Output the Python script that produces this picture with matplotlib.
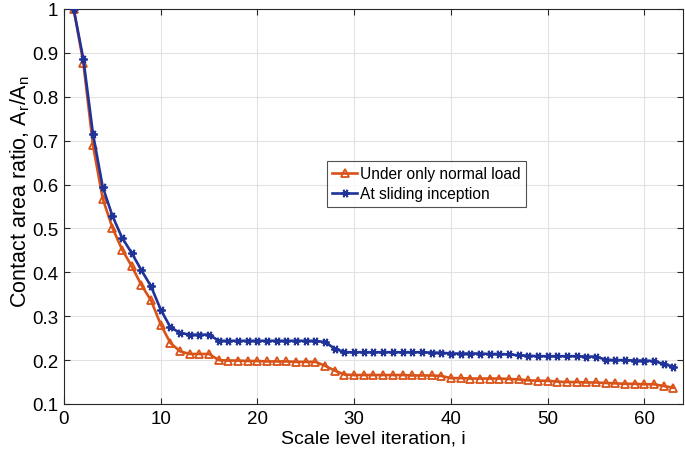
import matplotlib
matplotlib.use("Agg")
import matplotlib.pyplot as plt
import numpy as np

plt.rcParams['font.family'] = ['Liberation Sans', 'DejaVu Sans']

iterations = list(range(1, 64))

normal_load = [
    1.000, 0.877, 0.689, 0.568, 0.502, 0.452, 0.414, 0.371, 0.336, 0.281,
    0.239, 0.220, 0.214, 0.214, 0.214, 0.200, 0.199, 0.199, 0.198, 0.198,
    0.197, 0.197, 0.197, 0.196, 0.196, 0.196, 0.187, 0.176, 0.167, 0.166,
    0.166, 0.166, 0.166, 0.166, 0.166, 0.165, 0.165, 0.165, 0.164, 0.159,
    0.159, 0.158, 0.158, 0.158, 0.158, 0.157, 0.156, 0.154, 0.153, 0.153,
    0.151, 0.150, 0.150, 0.149, 0.149, 0.148, 0.147, 0.146, 0.146, 0.145,
    0.145, 0.141, 0.137,
]

sliding = [
    1.000, 0.886, 0.715, 0.595, 0.529, 0.479, 0.444, 0.405, 0.368, 0.315,
    0.275, 0.262, 0.258, 0.258, 0.258, 0.244, 0.244, 0.244, 0.244, 0.244,
    0.244, 0.244, 0.244, 0.244, 0.244, 0.244, 0.241, 0.226, 0.218, 0.218,
    0.218, 0.218, 0.218, 0.218, 0.218, 0.218, 0.218, 0.217, 0.217, 0.215,
    0.215, 0.215, 0.215, 0.214, 0.214, 0.213, 0.211, 0.210, 0.209, 0.209,
    0.209, 0.209, 0.209, 0.208, 0.208, 0.201, 0.200, 0.200, 0.199, 0.199,
    0.198, 0.191, 0.185,
]

series_labels = ["Under only normal load", "At sliding inception"]
x_ticks = [0, 10, 20, 30, 40, 50, 60]
y_ticks = [0.1, 0.2, 0.3, 0.4, 0.5, 0.6, 0.7, 0.8, 0.9, 1.0]
y_tick_labels = ["0.1", "0.2", "0.3", "0.4", "0.5", "0.6", "0.7", "0.8", "0.9", "1"]

orange = "#D95319"
blue = "#1F3399"

plt.rcParams['mathtext.fontset'] = 'custom'
plt.rcParams['mathtext.rm'] = 'Liberation Sans'

fig = plt.figure(figsize=(6.85, 4.6), dpi=100)
ax = fig.add_axes([64/685, 1 - 405/460, (683 - 64)/685, (405 - 10)/460])

ax.plot(iterations, normal_load, '-', color=orange, lw=1.9, marker='^',
        markersize=5.5, markerfacecolor='none', markeredgecolor=orange,
        markeredgewidth=1.3, label=series_labels[0], zorder=3)
ax.plot(iterations, sliding, '-', color=blue, lw=1.9, marker=(6, 2, 90),
        markersize=6, markeredgecolor=blue, markeredgewidth=1.3,
        label=series_labels[1], zorder=4)

ax.set_xlim(0, 64)
ax.set_ylim(0.1, 1.0)
ax.set_xticks(x_ticks)
ax.set_yticks(y_ticks)
ax.set_yticklabels(y_tick_labels)
ax.grid(True, color='#E2E2E2', lw=0.8)
ax.set_axisbelow(True)
ax.tick_params(direction='in', top=True, right=True, labelsize=13.5,
               length=4, width=0.8, color='#262626', pad=4)
for s in ax.spines.values():
    s.set_color('#262626')
    s.set_linewidth(0.8)

ax.set_xlabel("Scale level iteration, i", fontsize=14, labelpad=2)
ax.set_ylabel("Contact area ratio, A$_\\mathregular{r}$/A$_\\mathregular{n}$",
              fontsize=15.5)
ax.yaxis.set_label_coords(-0.052, 0.54)

leg = ax.legend(loc='upper left', bbox_to_anchor=((327 - 64)/619, 1 - (162 - 10)/395),
                fontsize=11.2, frameon=True, fancybox=False, edgecolor='#262626',
                handlelength=1.6, handletextpad=0.15, borderpad=0.35,
                labelspacing=0.3, borderaxespad=0)
leg.get_frame().set_linewidth(0.8)

fig.savefig("out.png", dpi=100)
